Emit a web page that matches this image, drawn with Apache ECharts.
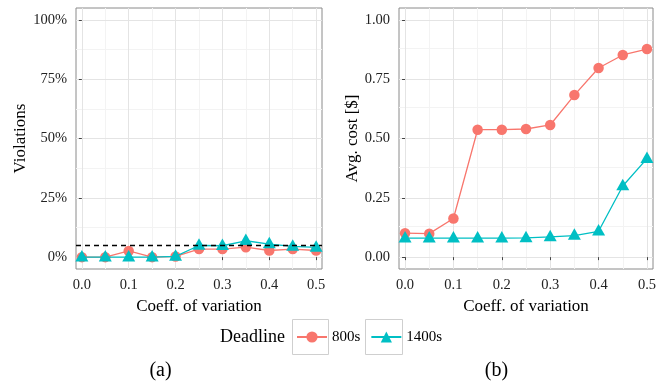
<!DOCTYPE html>
<html><head><meta charset="utf-8">
<script src="https://cdn.jsdelivr.net/npm/echarts@6/dist/echarts.min.js"></script>
<style>html,body{margin:0;padding:0;background:#fff}#c{width:660px;height:382px}</style>
</head><body><div id="c"></div>
<script>
const cov = [0, 0.05, 0.1, 0.15, 0.2, 0.25, 0.3, 0.35, 0.4, 0.45, 0.5];
const violations800 = [0, 0, 2.6, 0, 0.3, 3.4, 3.4, 4.2, 2.8, 3.4, 2.8];
const violations1400 = [0, 0, 0, 0, 0.3, 4.9, 4.8, 6.9, 5.5, 4.5, 4.1];
const cost800 = [0.101, 0.099, 0.163, 0.537, 0.537, 0.540, 0.557, 0.683, 0.797, 0.852, 0.877];
const cost1400 = [0.080, 0.080, 0.080, 0.080, 0.080, 0.081, 0.085, 0.091, 0.109, 0.300, 0.415];
const seriesNames = ['800s', '1400s'];
const xTicks = [0, 0.1, 0.2, 0.3, 0.4, 0.5];
const xMinor = [0.05, 0.15, 0.25, 0.35, 0.45];
const violTicks = [0, 25, 50, 75, 100];
const violMinor = [12.5, 37.5, 62.5, 87.5];
const costTicks = [0, 0.25, 0.5, 0.75, 1];
const costMinor = [0.125, 0.375, 0.625, 0.875];
const violationTarget = 5;

const FONT = '"Liberation Serif", "DejaVu Serif", serif';
const RED = '#F8766D', TEAL = '#00BFC4';
const pair = (xs, ys) => xs.map((x, i) => [x, ys[i]]);

function xAxisCfg(gi) {
  return {
    type: 'value', gridIndex: gi, min: -0.0125, max: 0.5125,
    name: 'Coeff. of variation', nameLocation: 'middle', nameGap: 25,
    nameTextStyle: {fontFamily: FONT, fontSize: 17, color: '#000'},
    axisLine: {show: false},
    axisTick: {show: true, customValues: xTicks, length: 3, lineStyle: {color: '#444'}},
    axisLabel: {customValues: xTicks, formatter: v => v.toFixed(1), fontFamily: FONT, fontSize: 14.5, color: '#222', margin: 9},
    splitLine: {show: false}
  };
}
function yAxisCfg(gi, name, ticks, fmt, gap, mn, mx) {
  return {
    type: 'value', gridIndex: gi, min: mn, max: mx,
    name: name, nameLocation: 'middle', nameGap: gap,
    nameTextStyle: {fontFamily: FONT, fontSize: 17, color: '#000'},
    axisLine: {show: false},
    axisTick: {show: true, customValues: ticks, length: 3, lineStyle: {color: '#444'}},
    axisLabel: {customValues: ticks, formatter: fmt, fontFamily: FONT, fontSize: 14.5, color: '#222', margin: 9},
    splitLine: {show: false}
  };
}
function gridSeries(gi, yMajor, yMinor) {
  const d = [];
  xMinor.forEach(v => d.push({xAxis: v, lineStyle: {color: '#F3F3F3', width: 1, type: 'solid'}}));
  yMinor.forEach(v => d.push({yAxis: v, lineStyle: {color: '#F3F3F3', width: 1, type: 'solid'}}));
  xTicks.forEach(v => d.push({xAxis: v, lineStyle: {color: '#E4E4E4', width: 1, type: 'solid'}}));
  yMajor.forEach(v => d.push({yAxis: v, lineStyle: {color: '#E4E4E4', width: 1, type: 'solid'}}));
  return {
    type: 'line', xAxisIndex: gi, yAxisIndex: gi, data: [], silent: true, z: 0,
    markLine: {silent: true, symbol: 'none', z: 0, label: {show: false}, animation: false, data: d}
  };
}
function dataSeries(gi, name, ys, color, sym) {
  const tri = sym === 'triangle';
  return {
    type: 'line', name: name, xAxisIndex: gi, yAxisIndex: gi, data: pair(cov, ys),
    symbol: sym, symbolSize: tri ? [13, 11.5] : 10.5, symbolOffset: tri ? [0, -1.5] : [0, 0],
    showAllSymbol: true, z: tri ? 4 : 3,
    lineStyle: {color: color, width: 1.3}, itemStyle: {color: color, opacity: 1},
    emphasis: {disabled: true}, animation: false
  };
}

const chart = echarts.init(document.getElementById('c'), null, {renderer: 'canvas'});
chart.setOption({
  animation: false,
  grid: [
    {left: 76, top: 8, width: 246, height: 261, show: true, borderColor: '#8a8a8a', borderWidth: 1, backgroundColor: '#fff'},
    {left: 399, top: 8, width: 254, height: 261, show: true, borderColor: '#8a8a8a', borderWidth: 1, backgroundColor: '#fff'}
  ],
  xAxis: [xAxisCfg(0), xAxisCfg(1)],
  yAxis: [
    yAxisCfg(0, 'Violations', violTicks, v => v + '%', 47, -5, 105),
    yAxisCfg(1, 'Avg. cost [$]', costTicks, v => v.toFixed(2), 37, -0.05, 1.05)
  ],
  legend: {
    data: seriesNames, left: 296, top: 329.5, padding: 0, itemWidth: 30, itemHeight: 14, itemGap: 10,
    textStyle: {fontFamily: FONT, fontSize: 15, color: '#000'}, selectedMode: false
  },
  series: [
    gridSeries(0, violTicks, violMinor),
    gridSeries(1, costTicks, costMinor),
    dataSeries(0, seriesNames[0], violations800, RED, 'circle'),
    dataSeries(0, seriesNames[1], violations1400, TEAL, 'triangle'),
    {
      type: 'line', xAxisIndex: 0, yAxisIndex: 0, data: [], silent: true, z: 5,
      markLine: {silent: true, symbol: 'none', z: 5, label: {show: false}, animation: false,
        data: [{yAxis: violationTarget, lineStyle: {color: '#000', width: 1.4, type: [5, 4]}}]}
    },
    dataSeries(1, seriesNames[0], cost800, RED, 'circle'),
    dataSeries(1, seriesNames[1], cost1400, TEAL, 'triangle')
  ],
  graphic: [
    {type: 'text', x: 252.5, y: 337, style: {text: 'Deadline', font: '18px ' + FONT, fill: '#000', align: 'center', verticalAlign: 'middle'}},
    {type: 'rect', shape: {x: 292.5, y: 319.5, width: 36, height: 35}, style: {fill: 'none', stroke: '#cfcfcf', lineWidth: 1}, z: -1},
    {type: 'rect', shape: {x: 365.5, y: 319.5, width: 37, height: 35}, style: {fill: 'none', stroke: '#cfcfcf', lineWidth: 1}, z: -1},
    {type: 'text', x: 160.5, y: 371, style: {text: '(a)', font: '20px ' + FONT, fill: '#000', align: 'center', verticalAlign: 'middle'}},
    {type: 'text', x: 496.5, y: 371, style: {text: '(b)', font: '20px ' + FONT, fill: '#000', align: 'center', verticalAlign: 'middle'}}
  ]
});
</script>
</body></html>
